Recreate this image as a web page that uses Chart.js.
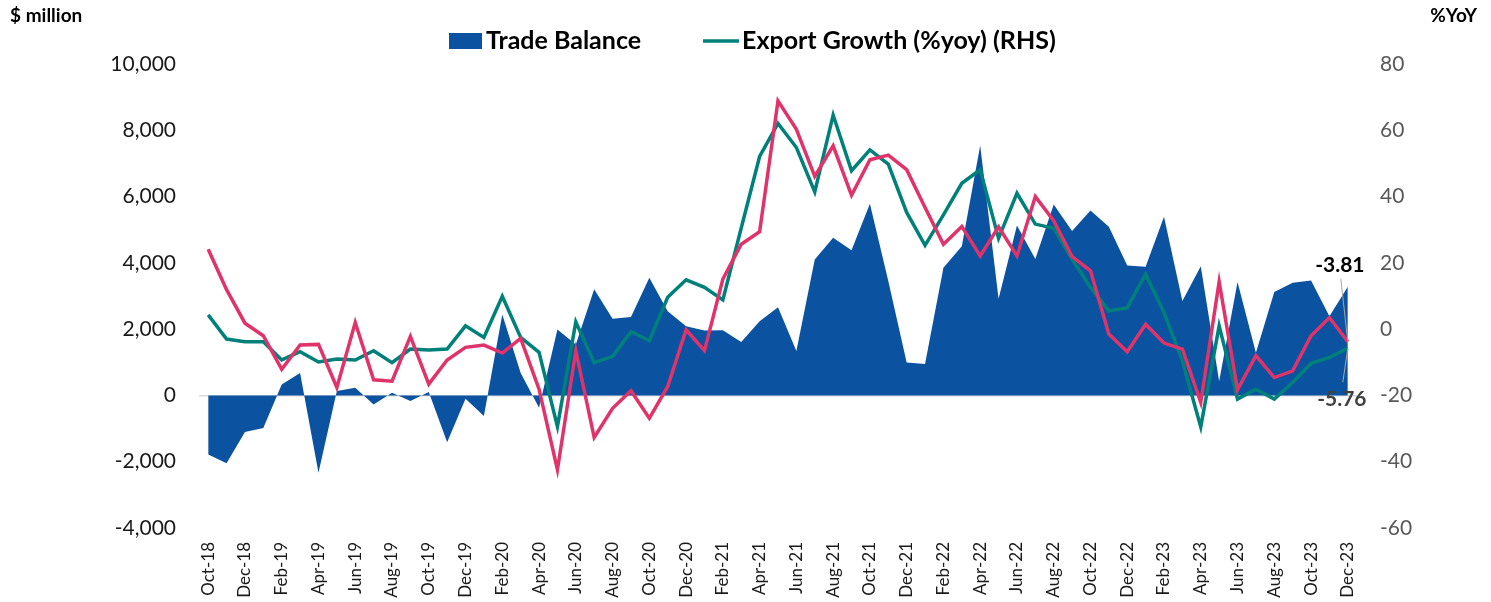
<!DOCTYPE html>
<html>
<head>
<meta charset="utf-8">
<script src="https://cdn.jsdelivr.net/npm/chart.js@4.4.0/dist/chart.umd.min.js"></script>
<style>
  html, body { margin: 0; padding: 0; background: #fff; }
  #wrap { width: 1491px; height: 602px; }
</style>
</head>
<body>
<div id="wrap"><canvas id="chart" width="1491" height="602"></canvas></div>
<script>
// monthly, Oct-18 .. Dec-23
const months = [
  "Oct-18", "Nov-18", "Dec-18",
  "Jan-19", "Feb-19", "Mar-19", "Apr-19", "May-19", "Jun-19", "Jul-19", "Aug-19", "Sep-19", "Oct-19", "Nov-19", "Dec-19",
  "Jan-20", "Feb-20", "Mar-20", "Apr-20", "May-20", "Jun-20", "Jul-20", "Aug-20", "Sep-20", "Oct-20", "Nov-20", "Dec-20",
  "Jan-21", "Feb-21", "Mar-21", "Apr-21", "May-21", "Jun-21", "Jul-21", "Aug-21", "Sep-21", "Oct-21", "Nov-21", "Dec-21",
  "Jan-22", "Feb-22", "Mar-22", "Apr-22", "May-22", "Jun-22", "Jul-22", "Aug-22", "Sep-22", "Oct-22", "Nov-22", "Dec-22",
  "Jan-23", "Feb-23", "Mar-23", "Apr-23", "May-23", "Jun-23", "Jul-23", "Aug-23", "Sep-23", "Oct-23", "Nov-23", "Dec-23"
];

// $ million
const tradeBalance = [
  -1780, -2050, -1100,
  -980, 330, 680, -2330, 130, 230, -270, 80, -170, 100, -1410, -100,
  -620, 2440, 680, -370, 1990, 1540, 3200, 2310, 2370, 3550, 2540, 2090,
  1960, 1970, 1610, 2240, 2660, 1340, 4100, 4760, 4380, 5780, 3450, 990,
  950, 3850, 4500, 7540, 2920, 5130, 4120, 5760, 4960, 5580, 5090, 3920,
  3880, 5390, 2850, 3900, 430, 3420, 1290, 3120, 3400, 3470, 2390, 3280
];

// %yoy, right axis
const exportGrowth = [
  4.3, -3.0, -3.8,
  -3.8, -9.3, -6.8, -9.9, -9.0, -9.3, -6.5, -10.1, -6.0, -6.3, -6.0, 1.0,
  -2.5, 9.9, -2.5, -7.0, -29.4, 2.2, -10.1, -8.2, -0.8, -3.5, 9.6, 14.9,
  12.6, 8.8, 30.5, 52.1, 62.1, 54.8, 41.4, 64.6, 47.8, 54.1, 49.8, 35.2,
  25.3, 34.5, 44.0, 48.1, 27.4, 41.0, 31.7, 30.4, 21.1, 12.6, 5.5, 6.5,
  16.6, 5.0, -9.6, -29.5, 1.0, -21.1, -18.1, -21.1, -16.1, -10.3, -8.5, -5.76
];

const importGrowth = [
  24.1, 11.9, 1.8,
  -2.0, -12.1, -4.8, -4.6, -17.6, 2.0, -15.3, -15.7, -2.2, -16.6, -9.3, -5.5,
  -4.8, -7.2, -2.8, -18.1, -42.4, -6.5, -32.7, -23.9, -18.6, -26.9, -17.3, -0.2,
  -6.5, 15.1, 25.6, 29.4, 68.9, 60.3, 46.1, 55.3, 40.4, 51.1, 52.5, 48.1,
  36.7, 25.6, 31.0, 22.1, 30.9, 22.1, 40.0, 32.7, 21.9, 17.6, -1.5, -6.8,
  1.5, -4.2, -6.0, -22.1, 14.3, -18.3, -8.0, -14.6, -12.6, -2.0, 3.5, -3.81
];

const leftTicks = { min: -4000, max: 10000, step: 2000 };
const rightTicks = { min: -60, max: 80, step: 20 };

const BLUE = "#0b52a1";
const TEAL = "#00807a";
const PINK = "#e0336a";
const FONT = "Lato, 'Open Sans', sans-serif";

// headers, legend and end-of-series labels
const decorations = {
  id: "decorations",
  afterDraw(chart) {
    const ctx = chart.ctx;
    ctx.save();
    ctx.textBaseline = "middle";

    ctx.fillStyle = "#000";
    ctx.font = "bold 19px " + FONT;
    ctx.textAlign = "left";
    ctx.fillText("$ million", 10, 16);
    ctx.textAlign = "right";
    ctx.fillText("%YoY", 1477, 16);

    // legend
    ctx.font = "bold 25px " + FONT;
    ctx.textAlign = "left";
    ctx.fillStyle = BLUE;
    ctx.fillRect(449, 33, 33, 16);
    ctx.fillStyle = "#000";
    ctx.fillText("Trade Balance", 486, 41);
    ctx.strokeStyle = TEAL;
    ctx.lineWidth = 3.5;
    ctx.beginPath();
    ctx.moveTo(703, 41);
    ctx.lineTo(739, 41);
    ctx.stroke();
    ctx.fillText("Export Growth (%yoy) (RHS)", 742, 41);

    // last-point labels
    const x = chart.scales.x.getPixelForValue(months.length - 1);
    const yR = chart.scales.yRight;
    const last = months.length - 1;
    const pinkY = yR.getPixelForValue(importGrowth[last]);
    const tealY = yR.getPixelForValue(exportGrowth[last]);

    ctx.strokeStyle = "#a6a6a6";
    ctx.lineWidth = 1;
    ctx.beginPath();
    ctx.moveTo(x - 7, pinkY - 63);
    ctx.lineTo(x, pinkY);
    ctx.moveTo(x - 5, tealY + 34);
    ctx.lineTo(x, tealY);
    ctx.stroke();

    ctx.font = "bold 21px " + FONT;
    ctx.textAlign = "center";
    ctx.fillStyle = "#000";
    ctx.fillText(importGrowth[last].toFixed(2), x - 8, pinkY - 77);
    ctx.fillStyle = "#404040";
    ctx.fillText(exportGrowth[last].toFixed(2), x - 6, tealY + 51);
    ctx.restore();
  }
};

new Chart(document.getElementById("chart"), {
  type: "line",
  data: {
    labels: months,
    datasets: [
      {
        label: "Import Growth (%yoy) (RHS)",
        data: importGrowth,
        yAxisID: "yRight",
        borderColor: PINK,
        borderWidth: 3.5,
        pointRadius: 0,
        tension: 0,
        fill: false,
        order: 1
      },
      {
        label: "Export Growth (%yoy) (RHS)",
        data: exportGrowth,
        yAxisID: "yRight",
        borderColor: TEAL,
        borderWidth: 3.5,
        pointRadius: 0,
        tension: 0,
        fill: false,
        order: 2
      },
      {
        label: "Trade Balance",
        data: tradeBalance,
        yAxisID: "yLeft",
        borderWidth: 0,
        borderColor: BLUE,
        backgroundColor: BLUE,
        pointRadius: 0,
        tension: 0,
        fill: "origin",
        order: 3
      }
    ]
  },
  options: {
    responsive: false,
    animation: false,
    devicePixelRatio: 1,
    layout: { padding: { top: 64, left: 0, right: 0, bottom: 0 } },
    plugins: {
      legend: { display: false },
      tooltip: { enabled: false }
    },
    scales: {
      x: {
        type: "category",
        offset: true,
        grid: { display: false, drawTicks: false },
        border: { display: false },
        ticks: {
          autoSkip: false,
          minRotation: 90,
          maxRotation: 90,
          padding: 14,
          color: "#1a1a1a",
          font: { family: FONT, size: 17 },
          callback: (value, index) => (index % 2 === 0 ? months[index] : "")
        },
        afterFit: (scale) => { scale.height = 74; }
      },
      yLeft: {
        position: "left",
        min: leftTicks.min,
        max: leftTicks.max,
        grid: {
          drawTicks: false,
          color: (c) => (c.tick && c.tick.value === 0 ? "#d9d9d9" : "rgba(0,0,0,0)"),
          lineWidth: 1.5
        },
        border: { display: false },
        ticks: {
          stepSize: leftTicks.step,
          padding: 23,
          color: "#1a1a1a",
          font: { family: FONT, size: 21 },
          callback: (v) => v.toLocaleString("en-US")
        },
        afterFit: (scale) => { scale.width = 199; }
      },
      yRight: {
        position: "right",
        min: rightTicks.min,
        max: rightTicks.max,
        grid: { display: false, drawTicks: false },
        border: { display: false },
        ticks: {
          stepSize: rightTicks.step,
          padding: 23,
          color: "#595959",
          font: { family: FONT, size: 21 }
        },
        afterFit: (scale) => { scale.width = 134; }
      }
    }
  },
  plugins: [decorations]
});
</script>
</body>
</html>
